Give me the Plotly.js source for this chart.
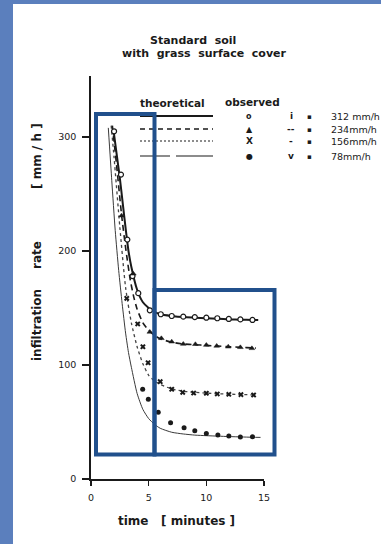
<!DOCTYPE html>
<html><head><meta charset="utf-8">
<script src="https://cdn.plot.ly/plotly-3.0.1.min.js"></script>
<style>html,body{margin:0;padding:0;background:#fff;overflow:hidden}#chart{width:381px;height:544px}</style>
</head><body><div id="chart"></div>
<script>
// ---- data ----
const theoTime312 = [1.95, 2.25, 2.5, 2.75, 3, 3.25, 3.5, 4, 4.5, 5, 5.5, 6, 7, 8, 9, 10, 11, 12, 13, 14, 14.5];
const theoRate312 = [306, 283, 264, 242, 220, 200, 186, 166, 155, 150, 146.5, 144.5, 143, 142, 141.5, 141, 140.5, 140, 139.7, 139.5, 139.4];
const obsTime312 = [2.0, 2.6, 3.15, 3.6, 4.1, 5.1, 6.05, 7.0, 8.0, 9.0, 10.0, 10.95, 11.95, 12.95, 14.0];
const obsRate312 = [305, 267, 210, 178, 163, 148, 144.5, 143, 142.4, 142, 141.5, 141, 140.4, 140, 139.5];

const theoTime234 = [1.85, 2.2, 2.67, 3, 3.4, 3.7, 4, 4.5, 5, 5.5, 6, 7, 8, 9, 10, 11, 12, 13, 14, 14.3];
const theoRate234 = [310, 277, 230, 203, 175, 160, 149, 137, 130.5, 126, 123, 120, 118.5, 117.8, 117.2, 116.6, 116, 115.5, 115, 114.8];
const obsTime234 = [2.65, 3.67, 5.1, 6.1, 7.0, 8.0, 9.05, 10.0, 10.9, 11.9, 12.95, 13.95];
const obsRate234 = [231, 180, 129, 123.4, 120.4, 118.4, 118.2, 117.5, 116.7, 116, 115.5, 114.6];

const theoTime156 = [1.75, 2, 2.5, 3, 3.5, 4, 4.5, 5, 5.5, 6, 7, 8, 9, 10, 11, 12, 13, 14, 14.3];
const theoRate156 = [310, 282, 221, 168, 137, 116, 101, 91, 86, 83, 79, 77, 76, 75.3, 74.8, 74.4, 74.1, 73.8, 73.7];
const obsTime156 = [3.1, 4.05, 4.5, 4.95, 6.0, 7.0, 7.95, 8.9, 10.0, 10.95, 11.95, 13.0, 14.1];
const obsRate156 = [158.5, 136, 116, 102, 85.4, 78.7, 76, 75.4, 75.2, 74.6, 74.3, 74, 73.7];

const theoTime78 = [1.5, 1.8, 2.1, 2.4, 2.7, 3, 3.25, 3.5, 4, 4.5, 5, 5.5, 6, 7, 8, 9, 10, 11, 12, 13, 14, 14.7];
const theoRate78 = [308, 262, 218, 183, 154, 128, 111, 98, 75, 61, 53, 48, 44.5, 41, 39.5, 38.5, 38, 37.6, 37.2, 36.9, 36.6, 36.5];
const obsTime78 = [4.48, 4.97, 5.83, 6.9, 8.07, 9.0, 10.0, 11.0, 11.95, 12.95, 14.0];
const obsRate78 = [78.7, 70, 58.5, 49.4, 45, 42.4, 40, 38.6, 37.7, 36.9, 37.1];

const xTicks = [0, 5, 10, 15];
const yTicks = [0, 100, 200, 300];
const intensityLabels = ['312 mm/h', '234mm/h', '156mm/h', '78mm/h'];
const iLabels = ['i', '--', '-', 'v'];
const obsGlyphs = ['o', '\u25B2', 'X', '\u25CF'];

// ---- layout geometry ----
const W = 381, H = 544, L = 91, R = 117, T = 76, B = 65;
const PW = W - L - R, PH = H - T - B;
const px = v => (v - L) / PW;
const py = v => (H - B - v) / PH;
const FONT = 'DejaVu Sans';
const INK = '#1a1a1a';
const NAVY = '#21508c';
const BAND = '#5b7fbd';

const line = (x, y, dash, width, color) => ({
  x, y, type: 'scatter', mode: 'lines', line: {color, width, dash, shape: 'spline', smoothing: 0.6},
  hoverinfo: 'skip', showlegend: false
});
const pts = (x, y, symbol, size, fill, lw) => ({
  x, y, type: 'scatter', mode: 'markers',
  marker: {symbol, size, color: fill, line: {color: INK, width: lw}},
  hoverinfo: 'skip', showlegend: false, cliponaxis: false
});

const data = [
  line(theoTime78, theoRate78, 'solid', 1, '#3a3a3a'),
  line(theoTime156, theoRate156, 'dot', 1.3, '#444'),
  line(theoTime234, theoRate234, '6px,4px', 1.6, INK),
  line(theoTime312, theoRate312, 'solid', 2, INK),
  pts(obsTime312, obsRate312, 'circle', 5, '#fff', 1.2),
  pts(obsTime234, obsRate234, 'triangle-up', 5, INK, 0.5),
  pts(obsTime156, obsRate156, 'x', 5, INK, 0),
  pts(obsTime78, obsRate78, 'circle', 5, INK, 0)
];

const ann = (x, y, text, size, extra) => Object.assign({
  xref: 'paper', yref: 'paper', x: px(x), y: py(y), text, showarrow: false,
  font: {family: FONT, size, color: INK, weight: 'bold'}, xanchor: 'center', yanchor: 'middle'
}, extra || {});

const legendRows = [116, 129, 141, 156];
const legendDash = ['solid', '5px,4px', '2px,2px', '30px,6px,40px'];
const legendWidth = [2, 1.4, 1, 1.2];

const annotations = [
  ann(193, 40, 'Standard  soil', 11),
  ann(204, 54, 'with  grass  surface  cover', 11),
  ann(172, 103, 'theoretical', 10.5),
  ann(252, 102, 'observed', 10.5),
  ann(176, 521, 'time   [ minutes ]', 12),
  ann(37, 325, 'infiltration', 12, {textangle: -90}),
  ann(37, 255, 'rate', 12, {textangle: -90}),
  ann(37, 156, '[ mm / h ]', 12, {textangle: -90})
];
legendRows.forEach((r, i) => {
  annotations.push(ann(249, r, obsGlyphs[i], i === 2 ? 9 : 8));
  annotations.push(ann(291, r, iLabels[i], 9));
  annotations.push(ann(309, r + 1, '\u25AA', 7));
  annotations.push(ann(329, r, intensityLabels[i], 9.5,
    {xanchor: 'left', font: {family: FONT, size: 9.5, color: INK}}));
});

const shapes = [
  {type: 'rect', xref: 'paper', yref: 'paper', x0: px(0), x1: px(13), y0: py(H), y1: py(0), fillcolor: BAND, line: {width: 0}, layer: 'above'},
  {type: 'rect', xref: 'paper', yref: 'paper', x0: px(0), x1: px(W), y0: py(4), y1: py(0), fillcolor: BAND, line: {width: 0}, layer: 'above'},
  {type: 'rect', xref: 'paper', yref: 'paper', x0: px(96), x1: px(154.5), y0: py(454.5), y1: py(114), line: {color: NAVY, width: 4}, layer: 'above'},
  {type: 'rect', xref: 'paper', yref: 'paper', x0: px(154.5), x1: px(274.5), y0: py(454.5), y1: py(290), line: {color: NAVY, width: 4}, layer: 'above'}
];
legendRows.forEach((r, i) => {
  shapes.push({type: 'line', xref: 'paper', yref: 'paper', x0: px(140), x1: px(213), y0: py(r), y1: py(r),
    line: {color: INK, width: legendWidth[i], dash: legendDash[i]}, layer: 'below'});
});

const layout = {
  width: W, height: H,
  margin: {l: L, r: R, t: T, b: B, pad: 0},
  paper_bgcolor: '#fff', plot_bgcolor: 'rgba(0,0,0,0)',
  showlegend: false,
  xaxis: {range: [0, 15], tickvals: xTicks, ticktext: xTicks.map(String), ticks: 'outside', ticklen: 5, tickwidth: 1.5,
    tickcolor: INK, showline: true, linecolor: INK, linewidth: 1.8, showgrid: false, zeroline: false,
    tickfont: {family: FONT, size: 9.5, color: INK}, ticklabelstandoff: 4, fixedrange: true},
  yaxis: {range: [0, 353.5], tickvals: yTicks, ticktext: yTicks.map(String), ticks: 'outside', ticklen: 7, tickwidth: 1.5,
    tickcolor: INK, showline: true, linecolor: INK, linewidth: 1.8, showgrid: false, zeroline: false,
    tickfont: {family: FONT, size: 9.5, color: INK}, ticklabelstandoff: 4, fixedrange: true},
  annotations, shapes
};

Plotly.newPlot('chart', data, layout, {displayModeBar: false, staticPlot: true});
</script>
</body></html>
